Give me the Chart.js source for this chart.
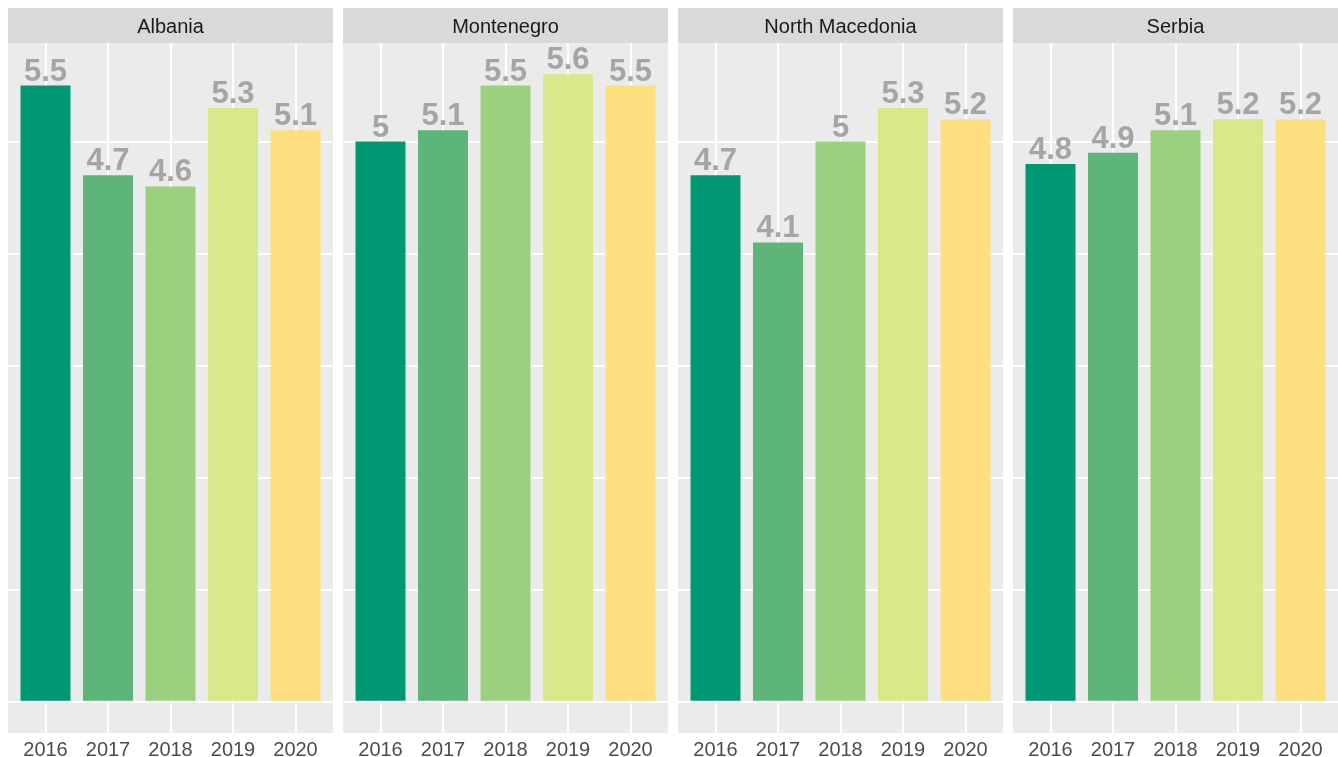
<!DOCTYPE html>
<html>
<head>
<meta charset="utf-8">
<script src="https://cdn.jsdelivr.net/npm/chart.js@4/dist/chart.umd.min.js"></script>
<style>
  body { margin: 0; background: #ffffff; width: 1338px; height: 757px; overflow: hidden; }
  .panel { position: absolute; top: 8px; width: 325px; height: 749px; }
</style>
</head>
<body>
<div class="panel" style="left:8px"><canvas id="c0"></canvas></div>
<div class="panel" style="left:343px"><canvas id="c1"></canvas></div>
<div class="panel" style="left:678px"><canvas id="c2"></canvas></div>
<div class="panel" style="left:1013px"><canvas id="c3"></canvas></div>
<script>
// Data
const years = ["2016", "2017", "2018", "2019", "2020"];
const countries = ["Albania", "Montenegro", "North Macedonia", "Serbia"];
const albania = [5.5, 4.7, 4.6, 5.3, 5.1];
const montenegro = [5, 5.1, 5.5, 5.6, 5.5];
const northMacedonia = [4.7, 4.1, 5, 5.3, 5.2];
const serbia = [4.8, 4.9, 5.1, 5.2, 5.2];
const seriesByCountry = [albania, montenegro, northMacedonia, serbia];
const yearColors = ["#009874", "#5db579", "#9bd17e", "#d9e98a", "#fedf80"];
const yTicks = [0, 1, 2, 3, 4, 5];

// ggplot-like panel + strip background
const panelBg = {
  id: "panelBg",
  beforeDraw(chart) {
    const { ctx, chartArea } = chart;
    ctx.save();
    ctx.fillStyle = "#d9d9d9";
    ctx.fillRect(0, 0, chart.width, chartArea.top);
    ctx.fillStyle = "#ebebeb";
    ctx.fillRect(chartArea.left, chartArea.top, chartArea.width, chartArea.height);
    ctx.restore();
  }
};

// value labels above the bars
const barLabels = {
  id: "barLabels",
  afterDatasetsDraw(chart) {
    const { ctx } = chart;
    const meta = chart.getDatasetMeta(0);
    ctx.save();
    ctx.font = "bold 31px 'Liberation Sans', Arial, sans-serif";
    ctx.fillStyle = "#a5a5a5";
    ctx.textAlign = "center";
    ctx.textBaseline = "alphabetic";
    meta.data.forEach((bar, i) => {
      const v = chart.data.datasets[0].data[i].y;
      ctx.fillText(String(v), bar.x, bar.y - 5);
    });
    ctx.restore();
  }
};

countries.forEach((country, k) => {
  const values = seriesByCountry[k];
  new Chart(document.getElementById("c" + k), {
    type: "bar",
    data: {
      datasets: [{
        data: values.map((v, i) => ({ x: i + 1, y: v })),
        backgroundColor: yearColors,
        borderWidth: 0,
        barPercentage: 0.8,
        categoryPercentage: 1
      }]
    },
    options: {
      responsive: true,
      maintainAspectRatio: false,
      animation: false,
      layout: { padding: 0 },
      plugins: {
        legend: { display: false },
        tooltip: { enabled: false },
        title: {
          display: true,
          text: country,
          color: "#1a1a1a",
          font: { family: "'Liberation Sans', Arial, sans-serif", size: 20, weight: "normal", lineHeight: 1.2 },
          padding: { top: 7.5, bottom: 3.5 }
        }
      },
      scales: {
        x: {
          type: "linear",
          min: 0.4,
          max: 5.6,
          offset: false,
          afterBuildTicks: (axis) => { axis.ticks = years.map((y, i) => ({ value: i + 1 })); },
          afterFit: (axis) => { axis.height = 24; },
          ticks: {
            color: "#4d4d4d",
            font: { family: "'Liberation Sans', Arial, sans-serif", size: 20 },
            padding: 5,
            maxRotation: 0,
            autoSkip: false,
            callback: (v) => years[Math.round(v) - 1]
          },
          grid: { color: "#ffffff", lineWidth: 2, drawTicks: false, offset: false },
          border: { display: false }
        },
        y: {
          min: -0.28,
          max: 5.88,
          afterBuildTicks: (axis) => { axis.ticks = yTicks.map(v => ({ value: v })); },
          afterFit: (axis) => { axis.width = 0; },
          ticks: { display: false },
          grid: { color: "#ffffff", lineWidth: 2, drawTicks: false },
          border: { display: false }
        }
      }
    },
    plugins: [panelBg, barLabels]
  });
});
</script>
</body>
</html>
